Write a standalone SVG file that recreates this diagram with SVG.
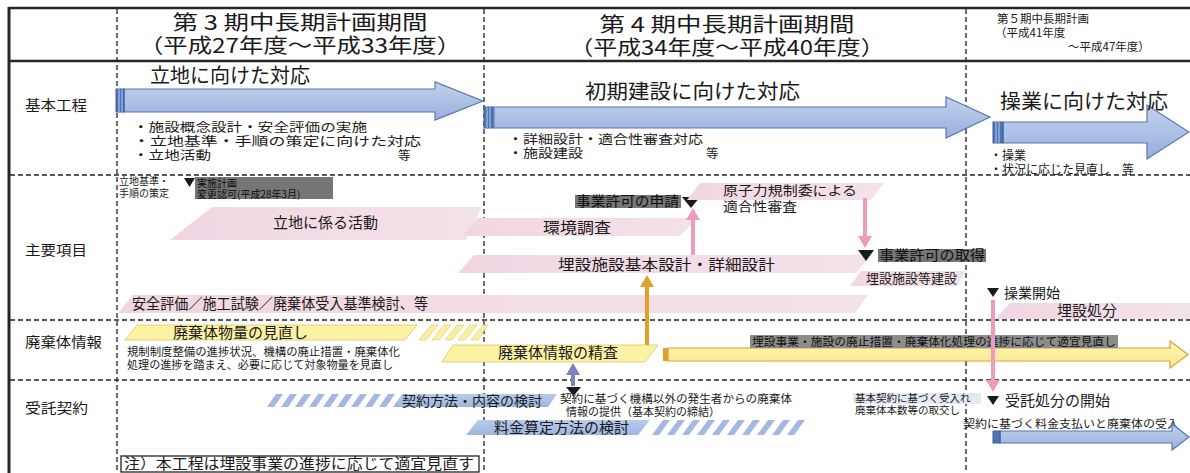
<svg xmlns="http://www.w3.org/2000/svg" width="1190" height="473" viewBox="0 0 1190 473">
<style>
.t{font-family:'Noto Sans CJK JP','Noto Sans',sans-serif;fill:#1a1a1a}
.solid{stroke:#262626;stroke-width:2.5;fill:none}
.dash{stroke:#222;stroke-width:1.3;stroke-dasharray:5 3;fill:none}
.pink{fill:url(#gPink)}
.yel{fill:#fcf2a4;stroke:#e2c466;stroke-width:0.8}
.blue{fill:url(#gBlue)}
.bigarrow{fill:url(#gArrow);stroke:#5677b2;stroke-width:1.2}
.strip{fill:#4f74b6;stroke:#3b5d9c;stroke-width:1}
.hatchB{fill:#a3b9e2}
.hatchY{fill:#fcf0a0;stroke:#e2c466;stroke-width:0.6}
.grey{fill:#767676}
.tri{fill:#1a1a1a}
.conn{fill:none;stroke-width:4}
</style>
<defs>
<linearGradient id="gArrow" x1="0" y1="0" x2="0" y2="1">
<stop offset="0" stop-color="#c2d2ec"/><stop offset="1" stop-color="#97b0db"/>
</linearGradient>
<linearGradient id="gBlue" x1="0" y1="0" x2="0" y2="1">
<stop offset="0" stop-color="#b9cbea"/><stop offset="1" stop-color="#9db5df"/>
</linearGradient>
<linearGradient id="gPink" x1="0" y1="0" x2="1" y2="0">
<stop offset="0" stop-color="#f1d6e2"/><stop offset="1" stop-color="#f4e2ea"/>
</linearGradient>
<linearGradient id="gYArrow" x1="0" y1="0" x2="0" y2="1">
<stop offset="0" stop-color="#fdf6b8"/><stop offset="1" stop-color="#f9e98a"/>
</linearGradient>
<marker id="mPink" markerWidth="12" markerHeight="14" refX="4" refY="7" orient="auto" markerUnits="userSpaceOnUse"><path d="M0,0 L12,7 L0,14 Z" fill="#ec9dbb"/></marker>
<marker id="mOrange" markerWidth="12" markerHeight="14" refX="4" refY="7" orient="auto" markerUnits="userSpaceOnUse"><path d="M0,0 L12,7 L0,14 Z" fill="#e0a02a"/></marker>
<marker id="mPurple" markerWidth="12" markerHeight="14" refX="4" refY="7" orient="auto" markerUnits="userSpaceOnUse"><path d="M0,0 L12,7 L0,14 Z" fill="#7f80c2"/></marker>
</defs>
<rect x="0" y="0" width="1190" height="473" fill="#ffffff"/>

<g id="table">
<line class="solid" x1="9" y1="8" x2="1190" y2="8"/>
<line class="solid" x1="9" y1="61" x2="1190" y2="61"/>
<line class="solid" x1="9" y1="7" x2="9" y2="473" style="stroke-width:3"/>
<line class="dash" x1="117" y1="9" x2="117" y2="473"/>
<line class="dash" x1="484" y1="9" x2="484" y2="473"/>
<line class="dash" x1="966" y1="9" x2="966" y2="473"/>
<line class="dash" x1="10" y1="175" x2="1190" y2="175"/>
<line class="dash" x1="10" y1="320" x2="1190" y2="320"/>
<line class="dash" x1="10" y1="380" x2="1190" y2="380"/>
</g>

<g id="header">
<text class="t" x="300" y="30" font-size="20" text-anchor="middle" textLength="255" lengthAdjust="spacingAndGlyphs">第 3 期中長期計画期間</text>
<text class="t" x="300" y="53" font-size="20" text-anchor="middle" textLength="322" lengthAdjust="spacingAndGlyphs">（平成27年度～平成33年度）</text>
<text class="t" x="727" y="32" font-size="20" text-anchor="middle" textLength="255" lengthAdjust="spacingAndGlyphs">第 4 期中長期計画期間</text>
<text class="t" x="727" y="55" font-size="20" text-anchor="middle" textLength="315" lengthAdjust="spacingAndGlyphs">（平成34年度～平成40年度）</text>
<text class="t" x="997" y="23" font-size="11.5">第５期中長期計画</text>
<text class="t" x="995" y="37" font-size="11.5">（平成41年度</text>
<text class="t" x="1068" y="51" font-size="11.5">～平成47年度）</text>
</g>

<g id="row-labels">
<text class="t" x="25" y="110" font-size="14" textLength="62" lengthAdjust="spacingAndGlyphs">基本工程</text>
<text class="t" x="25" y="255" font-size="14" textLength="62" lengthAdjust="spacingAndGlyphs">主要項目</text>
<text class="t" x="25" y="347" font-size="14" textLength="77" lengthAdjust="spacingAndGlyphs">廃棄体情報</text>
<text class="t" x="25" y="413" font-size="14" textLength="63" lengthAdjust="spacingAndGlyphs">受託契約</text>
</g>

<g id="phase1">
<path class="bigarrow" d="M124,89 L435,89 L435,82 L483,101 L435,120 L435,112 L124,112 Z"/>
<rect class="strip" x="116" y="89" width="8" height="23"/>
<line x1="119" y1="89" x2="119" y2="112" stroke="#b9cbea" stroke-width="1"/>
<line x1="122" y1="89" x2="122" y2="112" stroke="#b9cbea" stroke-width="1"/>
<text class="t" x="150" y="83" font-size="20">立地に向けた対応</text>
<text class="t" x="133" y="132" font-size="12.5" textLength="234" lengthAdjust="spacingAndGlyphs">・施設概念設計・安全評価の実施</text>
<text class="t" x="133" y="146" font-size="12.5" textLength="288" lengthAdjust="spacingAndGlyphs">・立地基準・手順の策定に向けた対応</text>
<text class="t" x="133" y="160" font-size="12.5" textLength="78" lengthAdjust="spacingAndGlyphs">・立地活動</text>
<text class="t" x="398" y="160" font-size="12.5">等</text>
</g>

<g id="phase2">
<path class="bigarrow" d="M494,107 L946,107 L946,97 L990,117 L946,138 L946,128 L494,128 Z"/>
<rect class="strip" x="484" y="107" width="9" height="21"/>
<line x1="487" y1="107" x2="487" y2="128" stroke="#b9cbea" stroke-width="1"/>
<line x1="490" y1="107" x2="490" y2="128" stroke="#b9cbea" stroke-width="1"/>
<text class="t" x="585" y="99" font-size="20" textLength="215" lengthAdjust="spacingAndGlyphs">初期建設に向けた対応</text>
<text class="t" x="508" y="144" font-size="12.5" textLength="195" lengthAdjust="spacingAndGlyphs">・詳細設計・適合性審査対応</text>
<text class="t" x="508" y="158" font-size="12.5" textLength="75" lengthAdjust="spacingAndGlyphs">・施設建設</text>
<text class="t" x="706" y="158" font-size="12.5">等</text>
</g>

<g id="phase3">
<path class="bigarrow" d="M1003,122 L1147,122 L1147,105 L1189,132 L1147,159 L1147,143 L1003,143 Z"/>
<rect class="strip" x="993" y="122" width="10" height="21"/>
<line x1="996" y1="122" x2="996" y2="143" stroke="#b9cbea" stroke-width="1"/>
<line x1="999" y1="122" x2="999" y2="143" stroke="#b9cbea" stroke-width="1"/>
<text class="t" x="1000" y="109" font-size="20" textLength="168" lengthAdjust="spacingAndGlyphs">操業に向けた対応</text>
<text class="t" x="990" y="160" font-size="12">・操業</text>
<text class="t" x="990" y="174" font-size="12">・状況に応じた見直し　等</text>
</g>

<g id="siting-standard">
<text class="t" x="119" y="185" font-size="10">立地基準・</text>
<text class="t" x="119" y="197" font-size="10">手順の策定</text>
<path class="tri" d="M184,178 L195,178 L189.5,187 Z"/>
<rect class="grey" x="195" y="177" width="138" height="22"/>
<text class="t" x="197" y="187" font-size="10" style="fill:#0d0d0d">実施計画</text>
<text class="t" x="197" y="198" font-size="10" style="fill:#0d0d0d">変更認可(平成28年3月)</text>
</g>

<g id="siting-activity">
<path class="pink" d="M170,240 L212,207 L482,207 L466,240 Z"/>
<text class="t" x="273" y="228" font-size="15">立地に係る活動</text>
</g>

<g id="env-survey">
<path class="pink" d="M462,236 L478,218 L697,218 L680,236 Z"/>
<text class="t" x="543" y="233" font-size="15" textLength="68" lengthAdjust="spacingAndGlyphs">環境調査</text>
</g>

<g id="basic-design">
<path class="pink" d="M458,273 L474,255 L871,255 L856,273 Z"/>
<text class="t" x="558" y="270" font-size="15" textLength="217" lengthAdjust="spacingAndGlyphs">埋設施設基本設計・詳細設計</text>
</g>

<g id="safety">
<path class="pink" d="M118,313 L133,295 L868,295 L855,313 Z"/>
<text class="t" x="132" y="309" font-size="14.5" textLength="296" lengthAdjust="spacingAndGlyphs">安全評価／施工試験／廃棄体受入基準検討、等</text>
</g>

<g id="license-apply">
<rect class="grey" x="575" y="195" width="106" height="13"/>
<text class="t" x="576" y="206" font-size="13.5" textLength="103" lengthAdjust="spacingAndGlyphs" style="fill:#0d0d0d">事業許可の申請</text>
<path class="tri" d="M682,197 L700,197 L691,208 Z"/>
</g>

<g id="nra-review">
<path class="pink" d="M687,200 L700,183 L884,183 L871,200 Z"/>
<text class="t" x="723" y="195" font-size="13" textLength="134" lengthAdjust="spacingAndGlyphs">原子力規制委による</text>
<text class="t" x="723" y="211" font-size="13" textLength="74" lengthAdjust="spacingAndGlyphs">適合性審査</text>
</g>

<g id="license-obtain">
<path class="tri" d="M858,250 L874,250 L866,261 Z"/>
<rect class="grey" x="878" y="249" width="108" height="13"/>
<text class="t" x="879" y="260" font-size="13.5" textLength="106" lengthAdjust="spacingAndGlyphs" style="fill:#0d0d0d">事業許可の取得</text>
</g>

<g id="construction">
<path class="pink" d="M850,286 L861,271 L966,271 L957,286 Z"/>
<text class="t" x="866" y="283" font-size="13" textLength="91" lengthAdjust="spacingAndGlyphs">埋設施設等建設</text>
</g>

<g id="operation-start">
<path class="tri" d="M987,288 L999,288 L993,297 Z"/>
<text class="t" x="1004" y="298" font-size="14">操業開始</text>
</g>

<g id="disposal">
<path class="pink" d="M995,319 L1010,303 L1190,303 L1190,319 Z"/>
<text class="t" x="1057" y="316" font-size="15">埋設処分</text>
</g>

<g id="waste-volume">
<path class="yel" d="M125,340 L137,325 L417,325 L405,340 Z"/>
<path class="hatchY" d="M419,340 L431,325 L438,325 L426,340 Z M432,340 L444,325 L451,325 L439,340 Z M445,340 L457,325 L464,325 L452,340 Z M458,340 L470,325 L477,325 L465,340 Z M471,340 L483,325 L488,325 L478,340 Z"/>
<text class="t" x="173" y="338" font-size="15">廃棄体物量の見直し</text>
<text class="t" x="127" y="356" font-size="11" textLength="273" lengthAdjust="spacingAndGlyphs">規制制度整備の進捗状況、機構の廃止措置・廃棄体化</text>
<text class="t" x="127" y="369" font-size="11" textLength="266" lengthAdjust="spacingAndGlyphs">処理の進捗を踏まえ、必要に応じて対象物量を見直し</text>
</g>

<g id="waste-info">
<path class="yel" d="M442,362 L453,345 L658,345 L645,362 Z"/>
<text class="t" x="498" y="358" font-size="15">廃棄体情報の精査</text>
</g>

<g id="review-arrow">
<path d="M668,348 L1170,348 L1170,341 L1188,354.5 L1170,368 L1170,361 L668,361 Z" fill="url(#gYArrow)" stroke="#d9a13a" stroke-width="1.2"/>
<rect x="663" y="348" width="5" height="13" fill="#e0a02a"/>
<rect class="grey" x="750" y="335" width="368" height="13" style="fill:#8c8c8c"/>
<text class="t" x="752" y="346" font-size="11.5" textLength="364" lengthAdjust="spacingAndGlyphs" style="fill:#111">埋設事業・施設の廃止措置・廃棄体化処理の進捗に応じて適宜見直し</text>
</g>

<g id="contract-method">
<path class="hatchB" d="M267,407 L276,394 L283,394 L274,407 Z M281,407 L290,394 L297,394 L288,407 Z M295,407 L304,394 L311,394 L302,407 Z M309,407 L318,394 L325,394 L316,407 Z M323,407 L332,394 L339,394 L330,407 Z M337,407 L346,394 L353,394 L344,407 Z M351,407 L360,394 L367,394 L358,407 Z M365,407 L374,394 L381,394 L372,407 Z M379,407 L388,394 L395,394 L386,407 Z"/>
<path class="blue" d="M393,407 L402,394 L557,394 L548,407 Z"/>
<text class="t" x="402" y="406" font-size="14">契約方法・内容の検討</text>
</g>

<g id="basic-contract">
<path class="tri" d="M566,387 L581,387 L573.5,396 Z"/>
<text class="t" x="560" y="403" font-size="11" textLength="232" lengthAdjust="spacingAndGlyphs">契約に基づく機構以外の発生者からの廃棄体</text>
<text class="t" x="566" y="416" font-size="11">情報の提供（基本契約の締結）</text>
</g>

<g id="fee-method">
<path class="blue" d="M466,435 L478,420 L650,420 L638,435 Z"/>
<path class="hatchB" d="M652,435 L663,420 L670,420 L659,435 Z M667,435 L678,420 L685,420 L674,435 Z M682,435 L693,420 L700,420 L689,435 Z M697,435 L708,420 L715,420 L704,435 Z M712,435 L723,420 L730,420 L719,435 Z M727,435 L738,420 L745,420 L734,435 Z M742,435 L753,420 L760,420 L749,435 Z M757,435 L768,420 L775,420 L764,435 Z M772,435 L783,420 L790,420 L779,435 Z M787,435 L798,420 L805,420 L794,435 Z"/>
<text class="t" x="494" y="433" font-size="15">料金算定方法の検討</text>
</g>

<g id="acceptance-exchange">
<rect x="853" y="393" width="128" height="11" fill="#e3eaf6"/>
<text class="t" x="855" y="402" font-size="10.5">基本契約に基づく受入れ</text>
<text class="t" x="855" y="414" font-size="10.5">廃棄体本数等の取交し</text>
</g>

<g id="consignment-start">
<path class="tri" d="M987,396 L999,396 L993,405 Z"/>
<text class="t" x="1005" y="406" font-size="15">受託処分の開始</text>
<text class="t" x="963" y="428" font-size="11" textLength="216" lengthAdjust="spacingAndGlyphs">契約に基づく料金支払いと廃棄体の受入</text>
<path class="bigarrow" d="M1000,431 L1172,431 L1172,424 L1189,437 L1172,450 L1172,443 L1000,443 Z"/>
<rect class="strip" x="993" y="431" width="7" height="12"/>
</g>

<g id="note">
<rect x="121" y="456" width="358" height="16" fill="#ffffff" stroke="#222" stroke-width="1.3"/>
<text class="t" x="124" y="469" font-size="14.5" textLength="350" lengthAdjust="spacingAndGlyphs">注）本工程は埋設事業の進捗に応じて適宜見直す</text>
</g>

<g id="connectors">
<line class="conn" x1="693" y1="255" x2="693" y2="216" stroke="#ec9dbb" marker-end="url(#mPink)"/>
<line class="conn" x1="865" y1="198" x2="865" y2="240" stroke="#ec9dbb" marker-end="url(#mPink)"/>
<line class="conn" x1="647" y1="345" x2="647" y2="283" stroke="#e0a02a" marker-end="url(#mOrange)"/>
<line class="conn" x1="573" y1="386" x2="573" y2="371" stroke="#7f80c2" marker-end="url(#mPurple)"/>
<line class="conn" x1="993" y1="300" x2="993" y2="384" stroke="#ec9dbb" marker-end="url(#mPink)"/>
</g>
</svg>
